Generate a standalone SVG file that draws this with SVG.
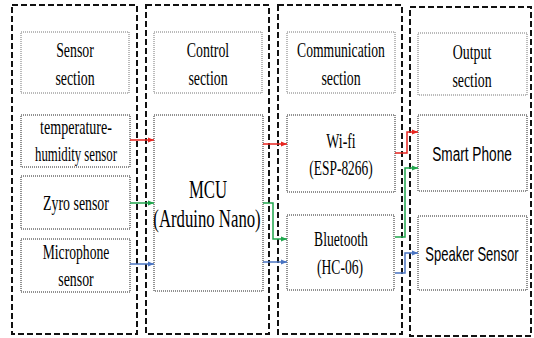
<svg xmlns="http://www.w3.org/2000/svg" width="534" height="338" viewBox="0 0 534 338">
<defs>
<style>
.sec{fill:none;stroke:#111;stroke-width:2;stroke-dasharray:6,3}
.hdr{fill:#fff;stroke:#777;stroke-width:1;stroke-dasharray:1,1}
.box{fill:#fff;stroke:#222;stroke-width:1;stroke-dasharray:1,1}
.t{font-family:'Liberation Serif','DejaVu Serif',serif;font-size:22px;fill:#000;text-anchor:middle}
.big{font-size:25px}
.s{font-family:'Liberation Sans',Arial,sans-serif;font-size:21px;fill:#000;text-anchor:middle}
.c{fill:none;stroke-width:1.5}
.r{stroke:#e8251f}
.g{stroke:#1fa64c}
.b{stroke:#4a74c2}
</style>
<marker id="ar" viewBox="0 0 6 6" refX="6" refY="3" markerWidth="6" markerHeight="6" markerUnits="userSpaceOnUse" orient="auto"><path d="M0,0.5 L6,3 L0,5.5 z" fill="#e8251f"/></marker>
<marker id="ag" viewBox="0 0 6 6" refX="6" refY="3" markerWidth="6" markerHeight="6" markerUnits="userSpaceOnUse" orient="auto"><path d="M0,0.5 L6,3 L0,5.5 z" fill="#1fa64c"/></marker>
<marker id="ab" viewBox="0 0 6 6" refX="6" refY="3" markerWidth="6" markerHeight="6" markerUnits="userSpaceOnUse" orient="auto"><path d="M0,0.5 L6,3 L0,5.5 z" fill="#4a74c2"/></marker>
</defs>
<rect width="534" height="338" fill="#fff"/>

<g id="sensor-section">
<rect class="sec" x="12" y="5" width="125" height="329"/>
<rect class="hdr" x="21" y="32" width="108" height="61"/>
<text class="t" font-family="Liberation Serif, serif" transform="translate(75,57) scale(0.63,1)">Sensor</text>
<text class="t" font-family="Liberation Serif, serif" transform="translate(75,85) scale(0.63,1)">section</text>
</g>
<g id="control-section">
<rect class="sec" x="146" y="5" width="123" height="329"/>
<rect class="hdr" x="154" y="32" width="108" height="61"/>
<text class="t" font-family="Liberation Serif, serif" transform="translate(208,57) scale(0.63,1)">Control</text>
<text class="t" font-family="Liberation Serif, serif" transform="translate(208,85) scale(0.63,1)">section</text>
</g>
<g id="communication-section">
<rect class="sec" x="278" y="5" width="124" height="329"/>
<rect class="hdr" x="287" y="32" width="108" height="61"/>
<text class="t" font-family="Liberation Serif, serif" transform="translate(341,57) scale(0.62,1)">Communication</text>
<text class="t" font-family="Liberation Serif, serif" transform="translate(341,85) scale(0.63,1)">section</text>
</g>
<g id="output-section">
<rect class="sec" x="410" y="7" width="121" height="329"/>
<rect class="hdr" x="418" y="33" width="109" height="62"/>
<text class="t" font-family="Liberation Serif, serif" transform="translate(472,59) scale(0.63,1)">Output</text>
<text class="t" font-family="Liberation Serif, serif" transform="translate(472,87) scale(0.63,1)">section</text>
</g>

<g id="temp-humidity">
<rect class="box" x="21" y="115" width="109" height="52"/>
<text class="t" font-family="Liberation Serif, serif" transform="translate(76,134) scale(0.64,1)">temperature-</text>
<text class="t" font-family="Liberation Serif, serif" transform="translate(76,161) scale(0.58,1)">humidity sensor</text>
</g>
<g id="zyro">
<rect class="box" x="21" y="176" width="109" height="53"/>
<text class="t" font-family="Liberation Serif, serif" transform="translate(76,210) scale(0.63,1)">Zyro sensor</text>
</g>
<g id="microphone">
<rect class="box" x="21" y="239" width="109" height="53"/>
<text class="t" font-family="Liberation Serif, serif" transform="translate(76,259) scale(0.62,1)">Microphone</text>
<text class="t" font-family="Liberation Serif, serif" transform="translate(76,286) scale(0.63,1)">sensor</text>
</g>
<g id="mcu">
<rect class="box" x="154" y="115" width="109" height="176"/>
<text class="t big" font-family="Liberation Serif, serif" transform="translate(208,198) scale(0.67,1)">MCU</text>
<text class="t big" font-family="Liberation Serif, serif" transform="translate(207,227) scale(0.67,1)">(Arduino Nano)</text>
</g>
<g id="wifi">
<rect class="box" x="287" y="115" width="108" height="77"/>
<text class="t" font-family="Liberation Serif, serif" transform="translate(341,148) scale(0.63,1)">Wi-fi</text>
<text class="t" font-family="Liberation Serif, serif" transform="translate(341,175) scale(0.61,1)">(ESP-8266)</text>
</g>
<g id="bluetooth">
<rect class="box" x="287" y="215" width="107" height="75"/>
<text class="t" font-family="Liberation Serif, serif" transform="translate(341,246) scale(0.62,1)">Bluetooth</text>
<text class="t" font-family="Liberation Serif, serif" transform="translate(340,274) scale(0.62,1)">(HC-06)</text>
</g>
<g id="smart-phone">
<rect class="box" x="418" y="115" width="109" height="76"/>
<text class="s" transform="translate(472,161) scale(0.65,1)">Smart Phone</text>
</g>
<g id="speaker">
<rect class="box" x="418" y="216" width="109" height="74"/>
<text class="s" transform="translate(472,261) scale(0.62,1)">Speaker Sensor</text>
</g>

<g id="connectors">
<path class="c r" d="M130,140 H154" marker-end="url(#ar)"/>
<path class="c g" d="M130,203 H154" marker-end="url(#ag)"/>
<path class="c b" d="M130,264 H154" marker-end="url(#ab)"/>
<path class="c r" d="M263,144 H287" marker-end="url(#ar)"/>
<path class="c g" d="M263,203 H273 V239 H287" marker-end="url(#ag)"/>
<path class="c b" d="M263,262 H287" marker-end="url(#ab)"/>
<path class="c r" d="M395,153 H407 V132 H418" marker-end="url(#ar)"/>
<path class="c g" d="M395,237 H405 V168 H418" marker-end="url(#ag)"/>
<path class="c b" d="M395,273 H405 V253 H418" marker-end="url(#ab)"/>
</g>
</svg>
